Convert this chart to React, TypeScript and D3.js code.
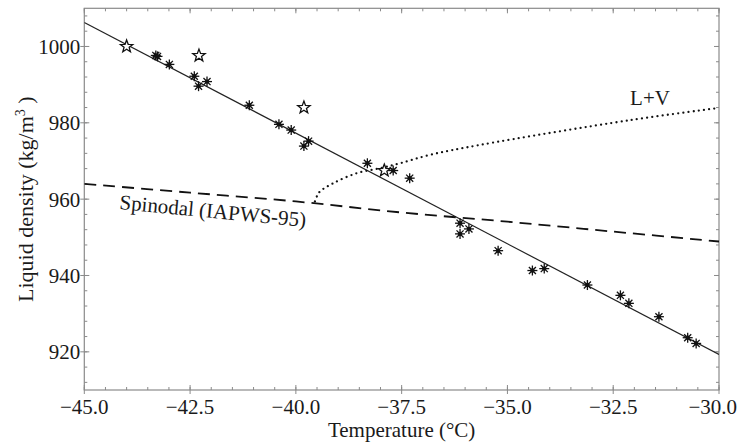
import React from 'react'
import * as d3 from 'd3'

// measured points (open stars)
const starT = [-44.0, -42.29, -39.81, -37.91]
const starRho = [1000.0, 997.6, 984.0, 967.5]

// measured points (asterisks)
const astT = [-43.31, -43.27, -42.99, -42.4, -42.3, -42.1, -41.1, -40.4, -40.11, -39.7, -39.81,
  -38.31, -37.7, -37.31, -36.12, -35.91, -36.12, -35.22, -34.41, -34.13, -33.11, -32.33,
  -32.13, -31.42, -30.74, -30.54]
const astRho = [997.65, 997.4, 995.3, 992.2, 989.6, 990.8, 984.6, 979.6, 978.1, 975.2, 973.9,
  969.4, 967.5, 965.5, 953.7, 952.2, 950.9, 946.5, 941.3, 941.8, 937.5, 934.8,
  932.7, 929.2, 923.7, 922.2]

// linear fit
const fitT = [-45, -30]
const fitRho = [1006.3, 919.3]

// spinodal (IAPWS-95)
const spinT = [-45, -42.5, -40, -37.5, -35, -32.5, -30]
const spinRho = [964.0, 961.7, 959.4, 956.5, 954.1, 951.5, 948.9]

// L+V coexistence
const lvT = [-39.55, -39.5, -39.43, -39.11, -38.56, -38.01, -37.54, -36.83, -35.65, -32.1, -30.0]
const lvRho = [959.4, 960.8, 962.0, 964.2, 966.8, 968.1, 969.4, 971.6, 974.2, 980.7, 983.9]

const xMajor = d3.range(-45, -29.99, 2.5)
const xMinor = d3.range(-45, -29.99, 0.5)
const yMajor = [920, 940, 960, 980, 1000]
const yMinor = d3.range(912, 1009, 4)

const W = 738
const H = 443
const m = { left: 84.3, right: 719, top: 8.3, bottom: 390 }
const FONT = '"Liberation Serif", "Times New Roman", serif'

const x = d3.scaleLinear().domain([-45, -30]).range([m.left, m.right])
const y = d3.scaleLinear().domain([910, 1010]).range([m.bottom, m.top])

const line = d3.line<[number, number]>().x(d => x(d[0])).y(d => y(d[1]))
const curve = d3.line<[number, number]>().x(d => x(d[0])).y(d => y(d[1])).curve(d3.curveCatmullRom)

function starPath (r1: number, r2: number) {
  const pts: [number, number][] = []
  for (let i = 0; i < 10; i++) {
    const r = i % 2 === 0 ? r1 : r2
    const a = -Math.PI / 2 + i * Math.PI / 5
    pts.push([r * Math.cos(a), r * Math.sin(a)])
  }
  return 'M' + pts.map(p => p.join(',')).join('L') + 'Z'
}

function Asterisk ({ cx, cy }: { cx: number, cy: number }) {
  const arms = [0, 45, 90, 135]
  return (
    <g transform={`translate(${cx},${cy})`}>
      {arms.map(a => (
        <line key={a} x1={-5} x2={5} y1={0} y2={0} transform={`rotate(${a})`}
          stroke="#111" strokeWidth={1.3} />
      ))}
      <circle r={2.2} fill="#111" />
    </g>
  )
}

export default function App () {
  const frame = '#8a8a8a'
  const spin = spinT.map((t, i) => [t, spinRho[i]] as [number, number])
  const lv = lvT.map((t, i) => [t, lvRho[i]] as [number, number])
  const fit = fitT.map((t, i) => [t, fitRho[i]] as [number, number])
  const star = starPath(6.5, 2.7)
  const fmt = d3.format('.1f')

  return (
    <svg width={W} height={H} style={{ position: 'fixed', left: 0, top: 0, background: '#fff' }}
      fontFamily={FONT}>
      <defs>
        <clipPath id="plot">
          <rect x={m.left} y={m.top} width={m.right - m.left} height={m.bottom - m.top} />
        </clipPath>
      </defs>

      {/* frame */}
      <rect x={m.left} y={m.top} width={m.right - m.left} height={m.bottom - m.top}
        fill="none" stroke={frame} strokeWidth={1.2} />

      {/* x ticks, bottom and top */}
      {xMinor.map(v => (
        <g key={'xm' + v} stroke={frame} strokeWidth={1}>
          <line x1={x(v)} x2={x(v)} y1={m.bottom} y2={m.bottom - 3} />
          <line x1={x(v)} x2={x(v)} y1={m.top} y2={m.top + 3} />
        </g>
      ))}
      {xMajor.map((v, i) => {
        const last = i === xMajor.length - 1
        return (
          <g key={'xM' + v}>
            <line x1={x(v)} x2={x(v)} y1={m.bottom + 4} y2={m.bottom - 5} stroke={frame} />
            <line x1={x(v)} x2={x(v)} y1={m.top} y2={m.top + 5} stroke={frame} />
            <text x={last ? W - 1 : x(v)} y={m.bottom + 24} textAnchor={last ? 'end' : 'middle'}
              fontSize={21} fill="#1a1a1a">
              {fmt(v)}
            </text>
          </g>
        )
      })}

      {/* y ticks, left and right */}
      {yMinor.map(v => (
        <g key={'ym' + v} stroke={frame} strokeWidth={1}>
          <line x1={m.left} x2={m.left + 3} y1={y(v)} y2={y(v)} />
          <line x1={m.right} x2={m.right - 3} y1={y(v)} y2={y(v)} />
        </g>
      ))}
      {yMajor.map(v => (
        <g key={'yM' + v}>
          <line x1={m.left - 4} x2={m.left + 5} y1={y(v)} y2={y(v)} stroke={frame} />
          <line x1={m.right} x2={m.right - 5} y1={y(v)} y2={y(v)} stroke={frame} />
          <text x={m.left - 4} y={y(v)} dy="0.35em" textAnchor="end" fontSize={21} fill="#1a1a1a">
            {v}
          </text>
        </g>
      ))}

      {/* axis titles */}
      <text x={(m.left + m.right) / 2} y={437} textAnchor="middle" fontSize={21} fill="#1a1a1a">
        Temperature (°C)
      </text>
      <text transform={`translate(33,${(m.top + m.bottom) / 2}) rotate(-90)`} textAnchor="middle"
        fontSize={22} fill="#1a1a1a">
        Liquid density (kg/m<tspan dy={-8} fontSize={14}>3</tspan><tspan dy={8}> )</tspan>
      </text>

      <g clipPath="url(#plot)" fill="none">
        <path d={line(fit) ?? ''} stroke="#222" strokeWidth={1.2} />
        <path d={curve(spin) ?? ''} stroke="#111" strokeWidth={1.8} strokeDasharray="12 7" />
        <path d={curve(lv) ?? ''} stroke="#111" strokeWidth={2.3} strokeDasharray="0 5.2"
          strokeLinecap="round" />
      </g>

      {astT.map((t, i) => <Asterisk key={'a' + i} cx={x(t)} cy={y(astRho[i])} />)}
      {starT.map((t, i) => (
        <path key={'s' + i} d={star} transform={`translate(${x(t)},${y(starRho[i])})`}
          fill="#fff" stroke="#111" strokeWidth={1.3} strokeLinejoin="miter" />
      ))}

      <text x={650} y={105} textAnchor="middle" fontSize={21} fill="#1a1a1a">L+V</text>
      <text transform={`translate(119,209) rotate(5.5)`} fontSize={21} fill="#1a1a1a">
        Spinodal (IAPWS-95)
      </text>
    </svg>
  )
}
